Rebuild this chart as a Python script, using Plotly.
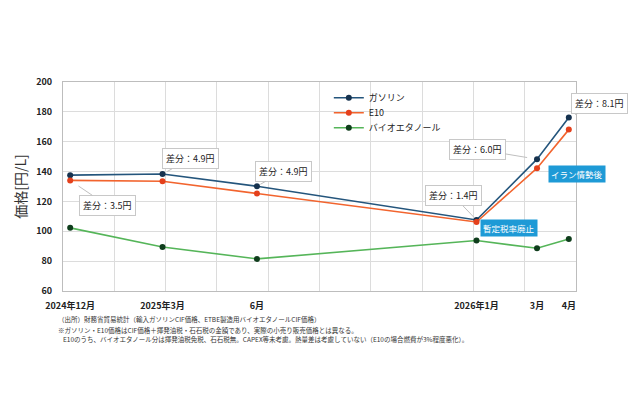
import plotly.graph_objects as go

# ---- data ----
dates = ["2024-12-15", "2025-03-15", "2025-06-15", "2026-01-15", "2026-03-15", "2026-04-15"]
tick_labels = ["2024年12月", "2025年3月", "6月", "2026年1月", "3月", "4月"]
gasoline = [137.6, 138.4, 130.2, 107.6, 148.3, 176.2]
e10 = [134.1, 133.5, 125.3, 106.2, 142.3, 168.1]
bioethanol = [102.3, 89.5, 81.5, 93.8, 88.6, 94.9]
diff_labels = ["差分：3.5円", "差分：4.9円", "差分：4.9円", "差分：1.4円", "差分：6.0円", "差分：8.1円"]

FONT = "Noto Sans CJK JP"

# plot area in screenshot pixels (page has an 8px body offset)
PL, PR, PT, PB = 53, 576, 82, 291


def px2paper(px, py):
    return (px - PL) / (PR - PL), (PB - py) / (PB - PT)


fig = go.Figure()
series_specs = [
    ("ガソリン", gasoline, "#24557c", "#16324f", "legend"),
    ("E10", e10, "#f2642e", "#e4401c", "legend2"),
    ("バイオエタノール", bioethanol, "#55b559", "#0f3d1c", "legend3"),
]
for name, vals, lc, mc, lg in series_specs:
    fig.add_trace(go.Scatter(x=dates, y=vals, name=name, mode="lines+markers",
                             line=dict(color=lc, width=1.6),
                             marker=dict(color=mc, size=6), legend=lg))

# callouts: (series, index, ax, ay, standoff)
callouts = [
    (e10, 0, 37, 25, 10),
    (gasoline, 1, 28, -15, 5),
    (gasoline, 2, 27, -15, 4),
    (gasoline, 3, -23, -24, 4),
    (gasoline, 4, -60, -10, 10),
    (gasoline, 5, 31, -14, 7),
]
for (series, i, ax, ay, so), txt in zip(callouts, diff_labels):
    fig.add_annotation(x=dates[i], y=series[i], text=txt, showarrow=True,
                       ax=ax, ay=ay, arrowhead=0, arrowwidth=1, arrowcolor="#bfbfbf",
                       standoff=so, bgcolor="white", bordercolor="#c8c8c8", borderwidth=1,
                       borderpad=3, font=dict(family=FONT, size=9, color="#222"))

for txt, px, py in [("イラン情勢後", 577, 174), ("暫定税率廃止", 508, 228)]:
    xp, yp = px2paper(px, py)
    fig.add_annotation(x=xp, y=yp, xref="paper", yref="paper", text=txt, showarrow=False,
                       xanchor="center", yanchor="middle",
                       bgcolor="#1e9ad6", borderpad=2,
                       font=dict(family=FONT, size=8.5, color="white"))

notes = [
    ("（出所）財務省貿易統計（輸入ガソリンCIF価格、ETBE製造用バイオエタノールCIF価格）", 46, 319),
    ("※ガソリン・E10価格はCIF価格＋揮発油税・石石税の金額であり、実際の小売り販売価格とは異なる。", 46, 330),
    ("E10のうち、バイオエタノール分は揮発油税免税、石石税無。CAPEX等未考慮。熱量差は考慮していない（E10の場合燃費が3%程度悪化）。", 51, 339),
]
for txt, px, py in notes:
    xp, yp = px2paper(px, py)
    fig.add_annotation(x=xp, y=yp, xref="paper", yref="paper",
                       text=txt, showarrow=False, xanchor="left", yanchor="middle",
                       font=dict(family=FONT, size=6.5, color="#333"))

legend_common = dict(xanchor="left", yanchor="middle", bgcolor="rgba(0,0,0,0)",
                     font=dict(family=FONT, size=9, color="#222"), itemwidth=30)
lx, _ = px2paper(324, 0)
legends = {}
for key, py in [("legend", 97.7), ("legend2", 112.7), ("legend3", 127.7)]:
    _, ly = px2paper(0, py)
    legends[key] = dict(x=lx, y=ly, **legend_common)

fig.update_layout(
    width=640, height=420,
    margin=dict(l=PL - 8, r=640 - (PR - 8), t=PT - 8, b=420 - (PB - 8)),
    plot_bgcolor="white", paper_bgcolor="white",
    font=dict(family=FONT, color="#222"),
    showlegend=True,
    **legends,
    xaxis=dict(type="date", range=["2024-12-08", "2026-04-22"],
               tickmode="array", tickvals=dates, ticktext=tick_labels,
               showgrid=False, ticks="", ticklabelstandoff=6,
               tickfont=dict(family=FONT, size=9, color="#222", weight="bold"),
               minor=dict(dtick=50 * 86400000, tick0="2024-12-08", showgrid=True,
                          gridcolor="#dcdcdc", gridwidth=1, ticks=""),
               showline=True, linecolor="#bdbdbd", mirror=True, zeroline=False),
    yaxis=dict(range=[60, 200], dtick=20, showgrid=True, gridcolor="#dcdcdc",
               ticklabelstandoff=8,
               tickfont=dict(family=FONT, size=9, color="#222", weight="bold"),
               title=dict(text="価格[円/L]", standoff=6, font=dict(family=FONT, size=14, color="#333")),
               showline=True, linecolor="#bdbdbd", mirror=True, zeroline=False),
)

fig.write_html("out.html")
